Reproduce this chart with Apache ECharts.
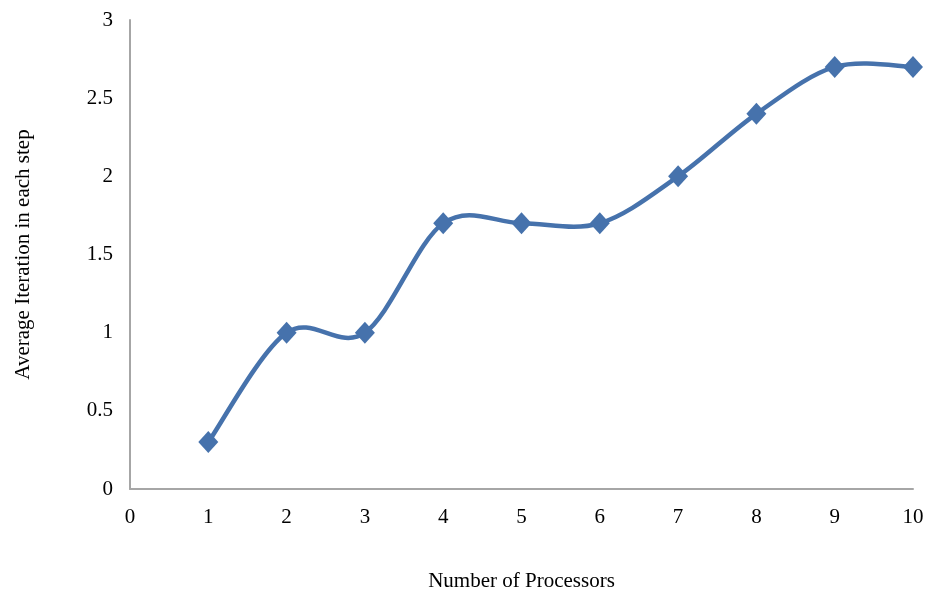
<!DOCTYPE html>
<html>
<head>
<meta charset="utf-8">
<script src="https://cdn.jsdelivr.net/npm/echarts@6/dist/echarts.min.js"></script>
<style>
  html, body { margin: 0; padding: 0; background: #ffffff; }
  #chart { width: 928px; height: 593px; }
</style>
</head>
<body>
<div id="chart"></div>
<script>
// Processor counts and the average iterations per step measured for each
var processors = [1, 2, 3, 4, 5, 6, 7, 8, 9, 10];
var avgIterations = [0.3, 1, 1, 1.7, 1.7, 1.7, 2, 2.4, 2.7, 2.7];

var xTitle = 'Number of Processors';
var yTitle = 'Average Iteration in each step';

var font = '"Liberation Serif", "Times New Roman", serif';
var lineColor = '#4672AC';

var points = processors.map(function (p, i) { return [p, avgIterations[i]]; });

// Catmull-Rom style smoothed curve (tension 1/6) through every point,
// mapped to pixels with the chart's own coordinate system.
function renderCurve(params, api) {
  if (params.dataIndex !== 0) return null;
  var px = points.map(function (p) { return api.coord(p); });
  var n = px.length;
  var d = 'M' + px[0][0] + ' ' + px[0][1];
  for (var i = 0; i < n - 1; i++) {
    var p0 = px[Math.max(i - 1, 0)];
    var p1 = px[i];
    var p2 = px[i + 1];
    var p3 = px[Math.min(i + 2, n - 1)];
    var c1x = p1[0] + (p2[0] - p0[0]) / 6;
    var c1y = p1[1] + (p2[1] - p0[1]) / 6;
    var c2x = p2[0] - (p3[0] - p1[0]) / 6;
    var c2y = p2[1] - (p3[1] - p1[1]) / 6;
    d += ' C' + c1x + ' ' + c1y + ' ' + c2x + ' ' + c2y + ' ' + p2[0] + ' ' + p2[1];
  }
  return {
    type: 'path',
    shape: { pathData: d },
    style: { fill: null, stroke: lineColor, lineWidth: 4.5, lineCap: 'round', lineJoin: 'round' }
  };
}

var chart = echarts.init(document.getElementById('chart'));
chart.setOption({
  animation: false,
  backgroundColor: '#ffffff',
  grid: { left: 130, right: 15, top: 20, bottom: 104, containLabel: false, outerBoundsMode: 'none' },
  xAxis: {
    type: 'value',
    min: 0, max: 10, interval: 1,
    name: xTitle,
    nameLocation: 'middle',
    nameGap: 82,
    nameTextStyle: { fontFamily: font, fontSize: 21, color: '#000' },
    axisLine: { show: true, lineStyle: { color: '#a6a6a6', width: 2 } },
    axisTick: { show: false },
    splitLine: { show: false },
    axisLabel: { fontFamily: font, fontSize: 21, color: '#000', margin: 18 }
  },
  yAxis: {
    type: 'value',
    min: 0, max: 3, interval: 0.5,
    name: yTitle,
    nameLocation: 'middle',
    nameGap: 96,
    nameTextStyle: { fontFamily: font, fontSize: 21, color: '#000' },
    axisLine: { show: true, lineStyle: { color: '#a6a6a6', width: 2 } },
    axisTick: { show: false },
    splitLine: { show: false },
    axisLabel: { fontFamily: font, fontSize: 21, color: '#000', margin: 17 }
  },
  series: [{
    type: 'custom',
    data: points,
    renderItem: renderCurve,
    silent: true,
    z: 2
  }, {
    type: 'scatter',
    data: points,
    symbol: 'diamond',
    symbolSize: [20, 22],
    itemStyle: { color: lineColor, opacity: 1 },
    z: 3
  }]
});
</script>
</body>
</html>
